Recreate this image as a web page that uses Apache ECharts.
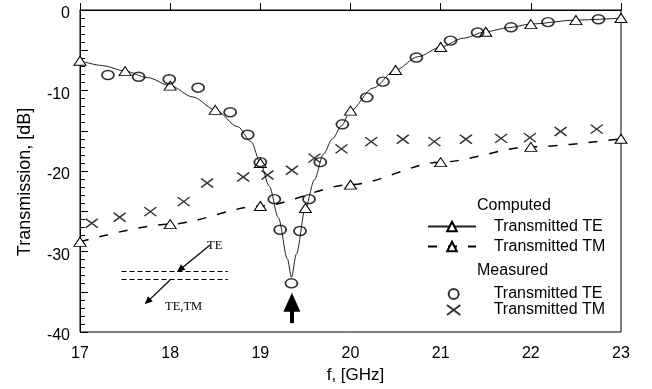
<!DOCTYPE html>
<html>
<head>
<meta charset="utf-8">
<script src="https://cdn.jsdelivr.net/npm/echarts@6/dist/echarts.min.js"></script>
<style>
html,body{margin:0;padding:0;background:#fff;}
#c{width:652px;height:389px;}
</style>
</head>
<body>
<div id="c"></div>
<script>
// Computed TE (solid curve with triangle markers)
var teCalcF  = [17, 17.25, 17.5, 17.75, 18, 18.25, 18.5, 18.75, 18.9, 19, 19.1, 19.2, 19.3, 19.345, 19.4, 19.5, 19.6, 19.7, 19.8, 19.9, 20, 20.25, 20.5, 20.75, 21, 21.25, 21.5, 21.75, 22, 22.5, 23];
var teCalcDB = [-6.3, -6.9, -7.6, -8.4, -9.4, -10.8, -12.4, -14.5, -16.4, -19.0, -21.9, -25.8, -30.9, -33.2, -30.3, -24.6, -21.1, -17.9, -16.0, -14.4, -12.5, -9.7, -7.45, -5.8, -4.6, -3.5, -2.7, -2.2, -1.75, -1.25, -1.0];
var teCalcMarkF = [17, 17.5, 18, 18.5, 19, 19.5, 20, 20.5, 21, 21.5, 22, 22.5, 23];
// Computed TM (dashed curve with triangle markers)
var tmCalcF  = [17, 18, 19, 20, 21, 22, 23];
var tmCalcDB = [-28.8, -26.6, -24.35, -21.7, -18.9, -17.0, -16.0];
// Measured TE (circles)
var teMeasF  = [17.31, 17.65, 17.99, 18.31, 18.665, 18.86, 19.0, 19.155, 19.22, 19.345, 19.44, 19.54, 19.665, 19.91, 20.18, 20.36, 20.73, 21.11, 21.41, 21.78, 22.19, 22.75];
var teMeasDB = [-8.07, -8.29, -8.6, -9.65, -12.7, -15.5, -18.9, -23.5, -27.3, -33.95, -27.45, -23.5, -18.9, -14.2, -10.85, -8.9, -5.9, -3.8, -2.8, -2.15, -1.5, -1.15];
// Measured TM (crosses)
var tmMeasF  = [17.13, 17.44, 17.78, 18.15, 18.41, 18.81, 19.08, 19.35, 19.60, 19.90, 20.23, 20.58, 20.93, 21.28, 21.67, 21.99, 22.33, 22.73];
var tmMeasDB = [-26.5, -25.75, -25.05, -23.8, -21.5, -20.75, -20.5, -19.9, -18.4, -17.25, -16.35, -16.05, -16.35, -16.05, -15.95, -15.85, -15.1, -14.8];
// Axis ticks
var xTicks = [17, 18, 19, 20, 21, 22, 23];
var yLabelTicks = [0, -10, -20, -30, -40];
// Legend texts
var legendNames = {'Computed TE': 'Transmitted TE', 'Computed TM': 'Transmitted TM', 'Measured TE': 'Transmitted TE', 'Measured TM': 'Transmitted TM'};

var FONT = 'Liberation Sans, Arial, sans-serif';
var SERIF = 'Liberation Serif, Times New Roman, serif';
function pairs(xs, ys){ return xs.map(function(x,i){ return [x, ys[i]]; }); }

var teCalcData = teCalcF.map(function(f,i){
  return { value: [f, teCalcDB[i]], symbol: teCalcMarkF.indexOf(f) >= 0 ? 'triangle' : 'none' };
});

var chart = echarts.init(document.getElementById('c'), null, {renderer: 'canvas'});
chart.setOption({
  animation: false,
  backgroundColor: '#fff',
  grid: { left: 80, right: 31, top: 10, bottom: 57, show: true, borderColor: '#000', borderWidth: 1, backgroundColor: 'transparent' },
  xAxis: {
    type: 'value', min: 17, max: 23, interval: 1,
    name: 'f, [GHz]', nameLocation: 'middle', nameGap: 32,
    nameTextStyle: { fontFamily: FONT, fontSize: 17, color: '#000', padding: [0, 0, 0, 10] },
    axisLine: { lineStyle: { color: '#000', width: 1 } },
    axisTick: { inside: true, length: 7, lineStyle: { color: '#000' } },
    axisLabel: { fontFamily: FONT, fontSize: 16, color: '#000', margin: 14,
      formatter: function(v){ return xTicks.indexOf(v) >= 0 ? String(v) : ''; } },
    splitLine: { show: false }
  },
  yAxis: {
    type: 'value', min: -40, max: 0, interval: 5,
    axisLine: { onZero: false, lineStyle: { color: '#000', width: 1 } },
    axisTick: { inside: true, length: 8, lineStyle: { color: '#000' } },
    minorTick: { show: true, splitNumber: 5, length: 5, lineStyle: { color: '#000' } },
    axisLabel: { fontFamily: FONT, fontSize: 16, color: '#000', margin: 10,
      formatter: function(v){ return yLabelTicks.indexOf(v) >= 0 ? '{a|' + v + '}' : ''; },
      rich: { a: { fontFamily: FONT, fontSize: 16, color: '#000', padding: [8, 0, 0, 0] } } },
    splitLine: { show: false }
  },
  legend: [
    {
      orient: 'vertical', left: 427, top: 218.5, padding: 0, itemWidth: 48, itemHeight: 12, itemGap: 4,
      data: ['Computed TE', 'Computed TM'],
      formatter: function(n){ return legendNames[n]; },
      textStyle: { fontFamily: FONT, fontSize: 16, color: '#000', padding: [0,0,0,13] },
      selectedMode: false
    },
    {
      orient: 'vertical', left: 446, top: 286, padding: 0, itemWidth: 14, itemHeight: 10, itemGap: 0,
      data: ['Measured TE', 'Measured TM'],
      formatter: function(n){ return legendNames[n]; },
      textStyle: { fontFamily: FONT, fontSize: 16, color: '#000', padding: [0,0,0,28] },
      selectedMode: false
    }
  ],
  graphic: [
    { type: 'text', x: 25, y: 182, rotation: Math.PI / 2,
      style: { text: 'Transmission, [dB]', fontFamily: FONT, fontSize: 18, fill: '#000', align: 'center', verticalAlign: 'middle' } },
    { type: 'text', left: 477, top: 197.5, style: { text: 'Computed', fontFamily: FONT, fontSize: 16, fill: '#000' } },
    { type: 'text', left: 477, top: 263, style: { text: 'Measured', fontFamily: FONT, fontSize: 16, fill: '#000' } },
    { type: 'text', left: 207, top: 239.5, style: { text: 'TE', fontFamily: SERIF, fontSize: 12.5, fill: '#000' } },
    { type: 'text', left: 165, top: 300, style: { text: 'TE,TM', fontFamily: SERIF, fontSize: 12.5, fill: '#000' } }
  ],
  series: [
    {
      name: 'Computed TE', type: 'line', data: teCalcData,
      smooth: 0.3, smoothMonotone: 'x',
      symbol: 'triangle', symbolSize: [12, 9], showAllSymbol: true,
      lineStyle: { color: '#222', width: 1 },
      itemStyle: { color: '#fff', borderColor: '#000', borderWidth: 1 },
      z: 3,
      markLine: {
        silent: true, animation: false,
        label: { show: false },
        emphasis: { disabled: true },
        symbol: ['none', 'none'],
        lineStyle: { color: '#000', width: 1.2, type: 'solid' },
        data: [
          [ { coord: [17.46, -32.5], lineStyle: { type: [5, 3], width: 1.2, color: '#000' } }, { coord: [18.64, -32.5] } ],
          [ { coord: [17.46, -33.45], lineStyle: { type: [5, 3], width: 1.2, color: '#000' } }, { coord: [18.64, -33.45] } ],
          [ { coord: [18.443, -29.19], symbol: 'none' }, { coord: [18.11, -32.24], symbol: 'triangle', symbolSize: [7, 8] } ],
          [ { coord: [17.999, -33.54], symbol: 'none' }, { coord: [17.749, -36.22], symbol: 'triangle', symbolSize: [7, 8] } ],
          [ { coord: [19.35, -38.9], symbol: 'none', lineStyle: { width: 4, color: '#000' } }, { coord: [19.35, -36.3], symbol: 'triangle', symbolSize: [17, 19] } ]
        ]
      }
    },
    {
      name: 'Computed TM', type: 'line', data: pairs(tmCalcF, tmCalcDB),
      smooth: 0.3, smoothMonotone: 'x',
      symbol: 'triangle', symbolSize: [12, 9], showAllSymbol: true,
      lineStyle: { color: '#000', width: 1.5, type: [9, 11] },
      itemStyle: { color: '#fff', borderColor: '#000', borderWidth: 1 },
      z: 3
    },
    {
      name: 'Measured TE', type: 'scatter', data: pairs(teMeasF, teMeasDB),
      symbol: 'circle', symbolSize: [12, 9],
      itemStyle: { color: 'rgba(255,255,255,0)', borderColor: '#000', borderWidth: 1.6 },
      z: 4
    },
    {
      name: 'Measured TM', type: 'scatter', data: pairs(tmMeasF, tmMeasDB),
      symbol: 'path://M0,0 L12,9 M12,0 L0,9', symbolSize: [12, 9],
      itemStyle: { color: 'rgba(0,0,0,0)', borderColor: '#000', borderWidth: 1.5 },
      z: 4
    }
  ]
});
</script>
</body>
</html>
